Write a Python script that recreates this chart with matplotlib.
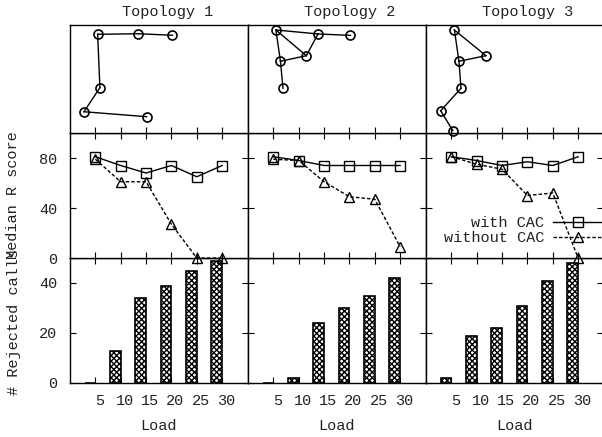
import matplotlib
matplotlib.use("Agg")
import matplotlib.pyplot as plt
import matplotlib.transforms as mtransforms

plt.rcParams['font.family'] = ['Liberation Mono', 'DejaVu Sans Mono']
plt.rcParams['font.size'] = 11
plt.rcParams['hatch.linewidth'] = 1.0

# ---------------- data ----------------
loads = [5, 10, 15, 20, 25, 30]
topology_titles = ["Topology 1", "Topology 2", "Topology 3"]

with_cac_t1 = [81, 74, 68, 74, 65, 74]
with_cac_t2 = [81, 78, 74, 74, 74, 74]
with_cac_t3 = [81, 78, 74, 77, 74, 81]

without_cac_t1 = [79, 61, 61, 27, 0, 0]
without_cac_t2 = [79, 78, 61, 49, 47, 9]
without_cac_t3 = [81, 75, 71, 50, 52, 0]

rejected_t1 = [0, 13, 34, 39, 45, 49]
rejected_t2 = [0, 2, 24, 30, 35, 42]
rejected_t3 = [2, 19, 22, 31, 41, 48]

# topology node positions (x, y) and links
topo1_x = [5.45, 13.5, 20.2, 5.9, 2.75, 15.1]
topo1_y = [91.4, 91.9, 90.5, 42.0, 19.7, 15.1]
topo1_edges = [(2, 1), (1, 0), (0, 3), (3, 4), (4, 5)]

topo2_x = [5.5, 13.8, 20.2, 11.5, 6.4, 6.9]
topo2_y = [95.4, 91.7, 90.4, 71.6, 66.4, 41.4]
topo2_edges = [(0, 1), (1, 2), (0, 3), (1, 3), (0, 4), (4, 3), (4, 5)]

topo3_x = [5.6, 11.8, 6.5, 6.9, 2.9, 5.3]
topo3_y = [95.4, 71.6, 66.4, 41.4, 20.6, 2.1]
topo3_edges = [(0, 1), (0, 2), (2, 1), (2, 3), (3, 4), (4, 5)]

# ---------------- figure ----------------
W, H = 602, 437
fig = plt.figure(figsize=(W / 100, H / 100), dpi=100)

col_left = [70, 248, 426]
col_w = 177.5
rows = [(25, 133), (133, 258), (258, 383)]

def make_ax(c, r):
    top, bot = rows[r]
    ax = fig.add_axes([col_left[c] / W, 1 - bot / H, col_w / W, (bot - top) / H])
    ax.set_zorder(3 - r)
    return ax

topos = [(topo1_x, topo1_y, topo1_edges),
         (topo2_x, topo2_y, topo2_edges),
         (topo3_x, topo3_y, topo3_edges)]
with_list = [with_cac_t1, with_cac_t2, with_cac_t3]
without_list = [without_cac_t1, without_cac_t2, without_cac_t3]
rej_list = [rejected_t1, rejected_t2, rejected_t3]
title_x = [0.55, 0.575, 0.575]

txtc = '#222222'
offset = mtransforms.ScaledTranslation(4 / 100, 0, fig.dpi_scale_trans)

for c in range(3):
    # --- topology row ---
    ax0 = make_ax(c, 0)
    tx, ty, te = topos[c]
    for a, b in te:
        ax0.plot([tx[a], tx[b]], [ty[a], ty[b]], color='black', lw=1.0, clip_on=False)
    ax0.plot(tx, ty, linestyle='none', marker='o', markersize=6.5,
             markerfacecolor='none', markeredgecolor='black', markeredgewidth=1.2,
             clip_on=False, zorder=5)
    ax0.set_xlim(0, 35)
    ax0.set_ylim(0, 100)
    ax0.set_xticks(loads)
    ax0.set_xticklabels([])
    ax0.set_yticks([])
    ax0.tick_params(axis='x', direction='in', length=4.5, bottom=True, top=False)
    ax0.text(title_x[c], 1.12, topology_titles[c], transform=ax0.transAxes,
             ha='center', va='center', color=txtc)

    # --- median R score row ---
    ax1 = make_ax(c, 1)
    ax1.plot(loads, with_list[c], color='black', lw=1.0, marker='s', markersize=7.5,
             markerfacecolor='none', markeredgecolor='black', markeredgewidth=1.0,
             label='with CAC', clip_on=False, zorder=4)
    ax1.plot(loads, without_list[c], color='black', lw=1.0, linestyle=(0, (2.5, 1.5)),
             marker='^', markersize=7, markerfacecolor='none', markeredgecolor='black',
             markeredgewidth=1.0, label='without CAC', clip_on=False, zorder=4)
    ax1.set_xlim(0, 35)
    ax1.set_ylim(0, 100)
    ax1.set_xticks(loads)
    ax1.set_xticklabels([])
    ax1.set_yticks([0, 40, 80])
    ax1.tick_params(direction='in', length=4.5, top=True, right=True, pad=9,
                    labelcolor=txtc)
    if c > 0:
        ax1.set_yticklabels([])
    if c == 2:
        leg = ax1.legend(loc='center right', bbox_to_anchor=(1.0, 0.22),
                         frameon=False, markerfirst=False, handlelength=3.3,
                         handletextpad=0.6, labelspacing=0.05, borderpad=0,
                         borderaxespad=0)
        for t in leg.get_texts():
            t.set_color(txtc)

    # --- rejected calls row ---
    ax2 = make_ax(c, 2)
    ax2.bar(loads, rej_list[c], width=-2.1, align='edge', facecolor='white',
            edgecolor='black', hatch='xxxxxx', linewidth=1.2, zorder=3)
    ax2.set_xlim(0, 35)
    ax2.set_ylim(0, 50)
    ax2.set_xticks(loads)
    ax2.set_xticklabels([str(v) for v in loads])
    ax2.set_yticks([0, 20, 40])
    ax2.tick_params(direction='in', length=4.5, top=True, right=True, pad=9,
                    labelcolor=txtc)
    ax2.tick_params(axis='x', pad=8)
    if c > 0:
        ax2.set_yticklabels([])
    ax2.set_xlabel('Load', color=txtc, labelpad=8)
    for lab in ax2.get_xticklabels():
        lab.set_transform(lab.get_transform() + offset)

    for ax in (ax0, ax1, ax2):
        for s in ax.spines.values():
            s.set_linewidth(1.0)

fig.text(13 / W, 1 - 195 / H, 'Median R score', rotation=90, ha='center', va='center',
         color=txtc)
fig.text(14 / W, 1 - 322 / H, '# Rejected calls', rotation=90, ha='center', va='center',
         color=txtc)

fig.savefig('out.png', dpi=100)
